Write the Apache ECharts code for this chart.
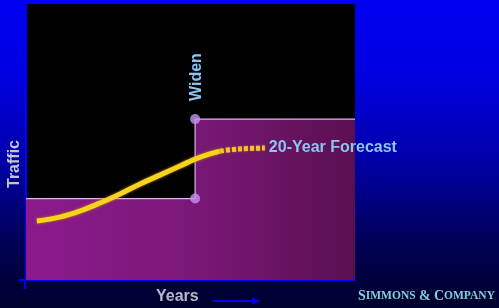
<!DOCTYPE html>
<html>
<head>
<meta charset="utf-8">
<script src="https://cdn.jsdelivr.net/npm/echarts@6/dist/echarts.min.js"></script>
<style>
  html, body { margin: 0; padding: 0; }
  body {
    width: 499px; height: 308px; overflow: hidden;
    background: linear-gradient(180deg, #0000f2 0%, #0000e0 25%, #0000a8 52%, #000058 78%, #00002c 100%);
  }
  #chart { width: 499px; height: 308px; }
</style>
</head>
<body>
<div id="chart"></div>
<script>
// traffic curve (solid part = history, dotted = 20-year forecast)
const solidYears = [3.3, 10.3, 16.4, 22.5, 28.6, 34.7, 40.7, 46.8, 51.4, 55.9, 59.0];
const solidTraffic = [21.4, 22.8, 25.0, 27.9, 31.2, 34.8, 38.0, 41.3, 43.8, 45.7, 46.7];
const forecastYears = [59.0, 65.0, 72.6];
const forecastTraffic = [46.7, 47.5, 47.8];

// road capacity, stepping up when the road is widened
const capacityYears = [0, 51.4, 51.4, 100];
const capacityLevels = [29.5, 29.5, 58.3, 58.3];
const widenYears = [51.4, 51.4];
const widenLevels = [29.5, 58.3];

const chart = echarts.init(document.getElementById("chart"), null, { renderer: "canvas" });

const textBlue = "#8cc4f4";
const axisBlue = "#0000ff";
const sans = "'Liberation Sans', Arial, sans-serif";
const serif = "'Liberation Serif', 'Times New Roman', serif";

const option = {
  backgroundColor: "transparent",
  animation: false,
  grid: {
    left: 26,
    right: 144,
    top: 4,
    bottom: 28,
    show: true,
    backgroundColor: "#000",
    borderWidth: 0,
  },
  xAxis: {
    type: "value",
    min: 0,
    max: 100,
    axisLine: { show: true, lineStyle: { color: axisBlue, width: 2 } },
    axisTick: { show: false },
    axisLabel: { show: false },
    splitLine: { show: false },
  },
  yAxis: {
    type: "value",
    min: 0,
    max: 100,
    axisLine: { show: true, lineStyle: { color: axisBlue, width: 2 } },
    axisTick: { show: false },
    axisLabel: { show: false },
    splitLine: { show: false },
  },
  series: [
    {
      name: "Capacity",
      type: "line",
      data: capacityYears.map((x, i) => [x, capacityLevels[i]]),
      showSymbol: false,
      lineStyle: { color: "#dab4f2", width: 1.2 },
      areaStyle: {
        opacity: 1,
        color: new echarts.graphic.LinearGradient(0, 0, 1, 0, [
          { offset: 0, color: "#8c1a8c" },
          { offset: 0.5, color: "#7a1878" },
          { offset: 1, color: "#5a1050" },
        ]),
      },
      z: 1,
    },
    {
      name: "Traffic",
      type: "line",
      data: solidYears.map((x, i) => [x, solidTraffic[i]]),
      smooth: 0.4,
      showSymbol: false,
      lineStyle: {
        color: "#f4d41c",
        width: 5,
        shadowColor: "#c87a10",
        shadowBlur: 3,
      },
      z: 3,
    },
    {
      name: "20-Year Forecast",
      type: "line",
      data: forecastYears.map((x, i) => [x, forecastTraffic[i]]),
      smooth: 0.4,
      showSymbol: false,
      lineStyle: {
        color: "#f2c232",
        width: 5,
        type: [4, 2],
        cap: "butt",
        shadowColor: "#c87a10",
        shadowBlur: 2,
      },
      endLabel: {
        show: true,
        formatter: "20-Year Forecast",
        color: textBlue,
        fontFamily: sans,
        fontWeight: "bold",
        fontSize: 16,
        distance: 4,
      },
      z: 3,
    },
    {
      name: "Widen",
      type: "scatter",
      data: widenYears.map((x, i) => [x, widenLevels[i]]),
      symbol: "circle",
      symbolSize: 10,
      itemStyle: { color: "#c890f0" },
      z: 4,
    },
  ],
  graphic: [
    // axis overhang at the origin
    { type: "line", shape: { x1: 25, y1: 280, x2: 25, y2: 289 }, style: { stroke: axisBlue, lineWidth: 2 } },
    { type: "line", shape: { x1: 19, y1: 280, x2: 26, y2: 280 }, style: { stroke: axisBlue, lineWidth: 2 } },
    {
      type: "text",
      x: 189,
      y: 101,
      rotation: Math.PI / 2,
      style: { text: "Widen", fill: textBlue, font: "bold 16px " + sans },
    },
    {
      type: "text",
      left: 168,
      top: 233,
      style: { text: "Capacity", fill: textBlue, font: "bold 16px " + sans },
    },
    {
      type: "text",
      x: 7,
      y: 188,
      rotation: Math.PI / 2,
      style: { text: "Traffic", fill: "#c4c4cc", font: "bold 16px " + sans },
    },
    {
      type: "text",
      left: 156,
      top: 289,
      style: { text: "Years", fill: "#b8b8c8", font: "bold 16px " + sans },
    },
    { type: "line", shape: { x1: 212, y1: 301, x2: 253, y2: 301 }, style: { stroke: axisBlue, lineWidth: 2 } },
    {
      type: "polygon",
      shape: { points: [[252, 297.5], [260, 301], [252, 304.5]] },
      style: { fill: axisBlue },
    },
    {
      type: "text",
      left: 358,
      top: 289,
      style: {
        rich: {
          a: { fontSize: 14, fontFamily: serif, fontWeight: "bold", fill: "#80d0d8", color: "#80d0d8" },
          b: { fontSize: 11.5, fontFamily: serif, fontWeight: "bold", fill: "#80d0d8", color: "#80d0d8" },
        },
        text: "{a|S}{b|IMMONS} {a|&} {a|C}{b|OMPANY}",
      },
    },
  ],
};

chart.setOption(option);
</script>
</body>
</html>
